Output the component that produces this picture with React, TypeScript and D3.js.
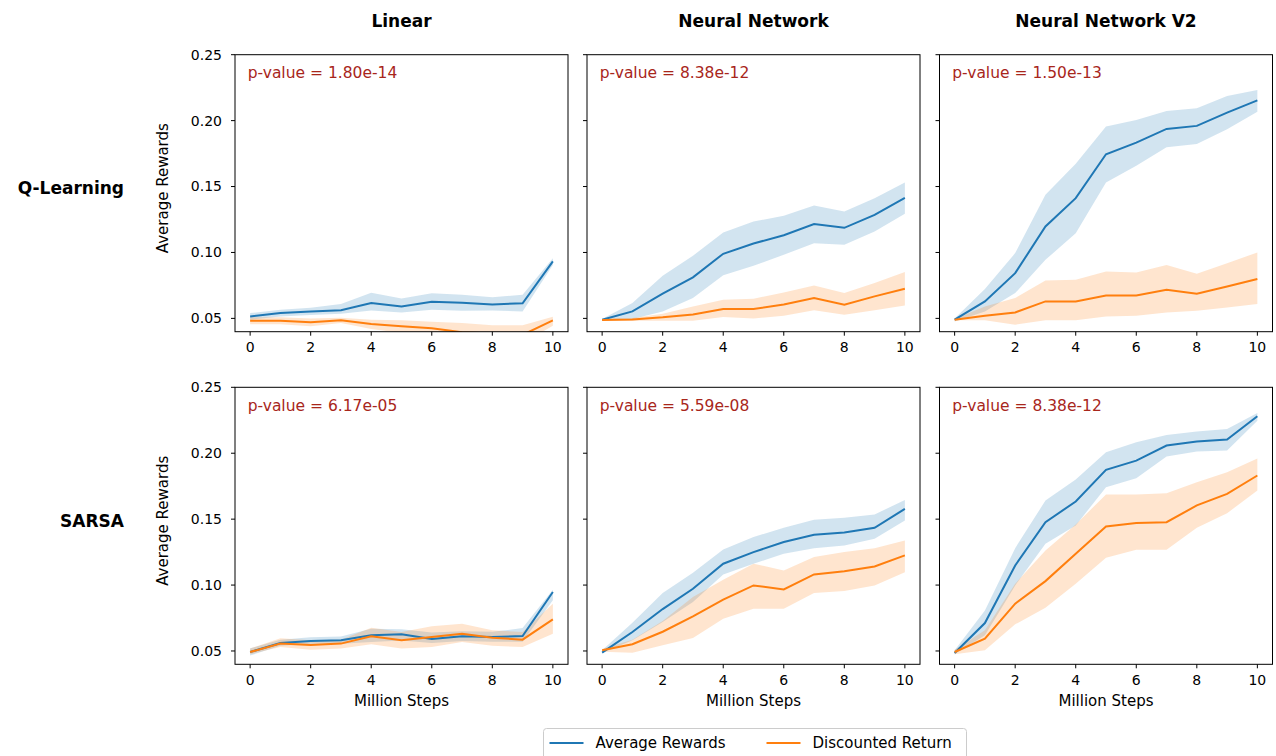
import React from "react";
import * as d3 from "d3";

// Training steps (millions)
const steps = [0, 1, 2, 3, 4, 5, 6, 7, 8, 9, 10];
const xTicks = [0, 2, 4, 6, 8, 10];
const yTicks = [0.05, 0.1, 0.15, 0.2, 0.25];

const columnTitles = ["Linear", "Neural Network", "Neural Network V2"];
const rowTitles = ["Q-Learning", "SARSA"];
const seriesNames = ["Average Rewards", "Discounted Return"];

// Q-Learning / Linear
const qLinAvg = [0.0515, 0.054, 0.0553, 0.0561, 0.0616, 0.0591, 0.0626, 0.0619, 0.0606, 0.0614, 0.0932];
const qLinAvgHi = [0.054, 0.0565, 0.058, 0.061, 0.0695, 0.065, 0.069, 0.068, 0.066, 0.068, 0.0957];
const qLinAvgLo = [0.049, 0.0515, 0.0525, 0.0535, 0.056, 0.0545, 0.0565, 0.0558, 0.056, 0.0553, 0.0905];
const qLinDis = [0.0482, 0.0482, 0.047, 0.0485, 0.0457, 0.044, 0.0425, 0.0395, 0.0385, 0.0375, 0.0485];
const qLinDisHi = [0.0508, 0.0508, 0.05, 0.0505, 0.049, 0.0485, 0.0475, 0.0465, 0.0447, 0.0447, 0.0512];
const qLinDisLo = [0.0455, 0.0455, 0.044, 0.0465, 0.042, 0.039, 0.037, 0.033, 0.032, 0.031, 0.0445];

// Q-Learning / Neural Network
const qNnAvg = [0.049, 0.0553, 0.0687, 0.0811, 0.099, 0.1068, 0.1131, 0.1215, 0.1187, 0.1285, 0.1414];
const qNnAvgHi = [0.0495, 0.0616, 0.0823, 0.0975, 0.1152, 0.1235, 0.1278, 0.1356, 0.1311, 0.1412, 0.153];
const qNnAvgLo = [0.0485, 0.0495, 0.0553, 0.0654, 0.0828, 0.0899, 0.0982, 0.107, 0.1058, 0.1159, 0.1293];
const qNnDis = [0.0487, 0.0492, 0.0508, 0.053, 0.0571, 0.0571, 0.0606, 0.0654, 0.0604, 0.0667, 0.0725];
const qNnDisHi = [0.0495, 0.0503, 0.0535, 0.0591, 0.0641, 0.0649, 0.0697, 0.075, 0.0692, 0.0768, 0.0851];
const qNnDisLo = [0.0482, 0.0482, 0.0482, 0.0482, 0.051, 0.05, 0.052, 0.0561, 0.0528, 0.0561, 0.0598];

// Q-Learning / Neural Network V2
const qV2Avg = [0.049, 0.0629, 0.0843, 0.1197, 0.1412, 0.1745, 0.1833, 0.1937, 0.196, 0.2061, 0.2154];
const qV2AvgHi = [0.05, 0.0722, 0.0995, 0.1437, 0.1672, 0.1955, 0.2005, 0.2073, 0.2093, 0.2187, 0.2232];
const qV2AvgLo = [0.0477, 0.0553, 0.0692, 0.0944, 0.1146, 0.153, 0.1657, 0.1798, 0.1823, 0.1934, 0.2068];
const qV2Dis = [0.049, 0.052, 0.0545, 0.0629, 0.0629, 0.0674, 0.0674, 0.0717, 0.0687, 0.0742, 0.0798];
const qV2DisHi = [0.0495, 0.0591, 0.0654, 0.0788, 0.0793, 0.0856, 0.0848, 0.0904, 0.0838, 0.0919, 0.1];
const qV2DisLo = [0.0485, 0.0485, 0.0452, 0.0485, 0.0485, 0.0515, 0.052, 0.0545, 0.0558, 0.0583, 0.0609];

// SARSA / Linear
const sLinAvg = [0.0492, 0.0561, 0.0576, 0.0581, 0.0619, 0.0626, 0.0591, 0.0611, 0.0606, 0.0614, 0.0947];
const sLinAvgHi = [0.052, 0.0585, 0.0605, 0.061, 0.0669, 0.0665, 0.064, 0.065, 0.0645, 0.0674, 0.0965];
const sLinAvgLo = [0.0465, 0.054, 0.0555, 0.0555, 0.0568, 0.058, 0.056, 0.0575, 0.057, 0.057, 0.0884];
const sLinDis = [0.0492, 0.0556, 0.0545, 0.0556, 0.0611, 0.0581, 0.0606, 0.0631, 0.0601, 0.0586, 0.074];
const sLinDisHi = [0.0518, 0.0596, 0.0581, 0.0586, 0.0677, 0.0644, 0.0687, 0.0707, 0.0657, 0.0644, 0.0859];
const sLinDisLo = [0.0475, 0.053, 0.051, 0.0518, 0.0551, 0.0518, 0.053, 0.0568, 0.054, 0.053, 0.0631];

// SARSA / Neural Network
const sNnAvg = [0.0487, 0.0644, 0.0818, 0.0972, 0.1162, 0.125, 0.1326, 0.1381, 0.1399, 0.1434, 0.1578];
const sNnAvgHi = [0.0505, 0.0715, 0.0939, 0.1093, 0.127, 0.1364, 0.1434, 0.1495, 0.151, 0.1535, 0.1646];
const sNnAvgLo = [0.0485, 0.0581, 0.072, 0.0871, 0.1081, 0.1162, 0.1237, 0.128, 0.13, 0.1351, 0.149];
const sNnDis = [0.0505, 0.0551, 0.0646, 0.0763, 0.0889, 0.0997, 0.0967, 0.1081, 0.1104, 0.1141, 0.1225];
const sNnDisHi = [0.0515, 0.0586, 0.0727, 0.0909, 0.104, 0.1162, 0.1111, 0.1212, 0.125, 0.128, 0.1338];
const sNnDisLo = [0.0495, 0.0487, 0.0543, 0.0598, 0.0745, 0.0821, 0.0821, 0.0939, 0.0955, 0.0997, 0.1098];

// SARSA / Neural Network V2
const sV2Avg = [0.0485, 0.0712, 0.1149, 0.1477, 0.1634, 0.1874, 0.1944, 0.2058, 0.2088, 0.2104, 0.228];
const sV2AvgHi = [0.0505, 0.0808, 0.128, 0.1641, 0.18, 0.2008, 0.2083, 0.2139, 0.2164, 0.2184, 0.2306];
const sV2AvgLo = [0.0475, 0.0619, 0.0997, 0.1313, 0.1452, 0.1742, 0.1811, 0.1975, 0.2013, 0.202, 0.2247];
const sV2Dis = [0.0492, 0.0593, 0.0859, 0.103, 0.1237, 0.1444, 0.147, 0.1477, 0.1604, 0.1692, 0.1831];
const sV2DisHi = [0.051, 0.0657, 0.101, 0.1263, 0.146, 0.1687, 0.1687, 0.1697, 0.178, 0.1856, 0.196];
const sV2DisLo = [0.0475, 0.0505, 0.0702, 0.0828, 0.101, 0.1207, 0.1268, 0.1268, 0.1434, 0.1545, 0.1717];

const pValues = [
  ["1.80e-14", "8.38e-12", "1.50e-13"],
  ["6.17e-05", "5.59e-08", "8.38e-12"],
];

type Band = { mean: number[]; lo: number[]; hi: number[] };
type Panel = { avg: Band; dis: Band };

const panels: Panel[][] = [
  [
    { avg: { mean: qLinAvg, lo: qLinAvgLo, hi: qLinAvgHi }, dis: { mean: qLinDis, lo: qLinDisLo, hi: qLinDisHi } },
    { avg: { mean: qNnAvg, lo: qNnAvgLo, hi: qNnAvgHi }, dis: { mean: qNnDis, lo: qNnDisLo, hi: qNnDisHi } },
    { avg: { mean: qV2Avg, lo: qV2AvgLo, hi: qV2AvgHi }, dis: { mean: qV2Dis, lo: qV2DisLo, hi: qV2DisHi } },
  ],
  [
    { avg: { mean: sLinAvg, lo: sLinAvgLo, hi: sLinAvgHi }, dis: { mean: sLinDis, lo: sLinDisLo, hi: sLinDisHi } },
    { avg: { mean: sNnAvg, lo: sNnAvgLo, hi: sNnAvgHi }, dis: { mean: sNnDis, lo: sNnDisLo, hi: sNnDisHi } },
    { avg: { mean: sV2Avg, lo: sV2AvgLo, hi: sV2AvgHi }, dis: { mean: sV2Dis, lo: sV2DisLo, hi: sV2DisHi } },
  ],
];

const BLUE = "#1f77b4";
const ORANGE = "#ff7f0e";
const FONT = "DejaVu Sans, Verdana, sans-serif";

const W = 1276;
const H = 756;
const colLeft = [235, 587, 939.5];
const rowTop = [54.7, 387.3];
const PW = 333;
const PH = 277;

const x = d3.scaleLinear().domain([-0.5, 10.5]).range([0, PW]);
const y = d3.scaleLinear().domain([0.0399, 0.25]).range([PH, 0]);
const fmt = d3.format(".2f");

const line = d3
  .line<number>()
  .x((_, i) => x(steps[i]))
  .y((d) => y(d));

function areaPath(b: Band) {
  return d3
    .area<number>()
    .x((_, i) => x(steps[i]))
    .y0((_, i) => y(b.lo[i]))
    .y1((_, i) => y(b.hi[i]))(b.mean) as string;
}

function PanelView({ r, c }: { r: number; c: number }) {
  const p = panels[r][c];
  const clipId = `clip-${r}-${c}`;
  return (
    <g transform={`translate(${colLeft[c]},${rowTop[r]})`}>
      <defs>
        <clipPath id={clipId}>
          <rect x={0} y={0} width={PW} height={PH} />
        </clipPath>
      </defs>
      <g clipPath={`url(#${clipId})`}>
        <path d={areaPath(p.avg)} fill={BLUE} fillOpacity={0.2} />
        <path d={areaPath(p.dis)} fill={ORANGE} fillOpacity={0.2} />
        <path d={line(p.avg.mean) as string} fill="none" stroke={BLUE} strokeWidth={2} />
        <path d={line(p.dis.mean) as string} fill="none" stroke={ORANGE} strokeWidth={2} />
      </g>
      <rect x={0} y={0} width={PW} height={PH} fill="none" stroke="#000" strokeWidth={1} />
      {yTicks.map((t) => (
        <g key={t} transform={`translate(0,${y(t)})`}>
          <line x1={-4} x2={0} stroke="#000" />
          {c === 0 && (
            <text x={-13} dy="0.35em" textAnchor="end" fontSize={14} fontFamily={FONT} fill="#000">
              {fmt(t)}
            </text>
          )}
        </g>
      ))}
      {xTicks.map((t) => (
        <g key={t} transform={`translate(${x(t)},${PH})`}>
          <line y1={0} y2={4} stroke="#000" />
          <text y={20.5} textAnchor="middle" fontSize={14} fontFamily={FONT} fill="#000">
            {t}
          </text>
        </g>
      ))}
      <text x={12.7} y={23.5} fontSize={15.5} fontFamily={FONT} fill="#a8261b">
        {`p-value = ${pValues[r][c]}`}
      </text>
      {c === 0 && (
        <text
          transform={`translate(-67,${PH / 2 - 5}) rotate(-90)`}
          textAnchor="middle"
          fontSize={15}
          fontFamily={FONT}
          fill="#000"
        >
          Average Rewards
        </text>
      )}
      {r === 1 && (
        <text x={PW / 2} y={PH + 42} textAnchor="middle" fontSize={15} fontFamily={FONT} fill="#000">
          Million Steps
        </text>
      )}
    </g>
  );
}

export default function App() {
  return (
    <svg
      width={W}
      height={H}
      viewBox={`0 0 ${W} ${H}`}
      style={{ position: "absolute", left: 0, top: 0, background: "#fff" }}
    >
      <rect width={W} height={H} fill="#fff" />
      {columnTitles.map((t, c) => (
        <text
          key={t}
          x={colLeft[c] + PW / 2}
          y={27}
          textAnchor="middle"
          fontSize={17}
          fontWeight="bold"
          fontFamily={FONT}
          fill="#000"
        >
          {t}
        </text>
      ))}
      {rowTitles.map((t, r) => (
        <text
          key={t}
          x={124}
          y={rowTop[r] + PH / 2 + 1}
          textAnchor="end"
          fontSize={17}
          fontWeight="bold"
          fontFamily={FONT}
          fill="#000"
        >
          {t}
        </text>
      ))}
      {[0, 1].map((r) => [0, 1, 2].map((c) => <PanelView key={`${r}-${c}`} r={r} c={c} />))}
      {/* legend */}
      <g transform="translate(543.5,728.5)">
        <rect x={0} y={0} width={423} height={34} rx={3} fill="#fff" stroke="#ccc" strokeWidth={1} />
        {seriesNames.map((s, i) => {
          const ox = i === 0 ? 6 : 223;
          return (
            <g key={s} transform={`translate(${ox},14.5)`}>
              <line x1={0} x2={34} stroke={i === 0 ? BLUE : ORANGE} strokeWidth={2} />
              <text x={46} dy="0.35em" fontSize={15} fontFamily={FONT} fill="#000">
                {s}
              </text>
            </g>
          );
        })}
      </g>
    </svg>
  );
}
